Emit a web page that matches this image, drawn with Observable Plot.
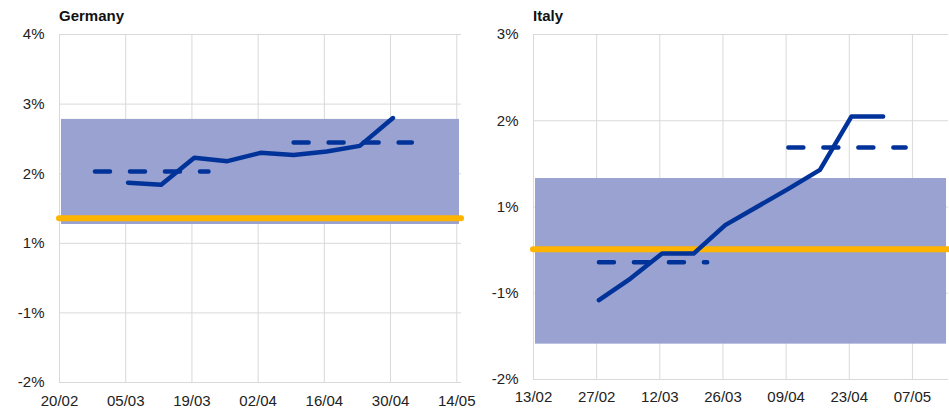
<!DOCTYPE html>
<html>
<head>
<meta charset="utf-8">
<script src="https://cdn.jsdelivr.net/npm/d3@7"></script>
<script src="https://cdn.jsdelivr.net/npm/@observablehq/plot@0.6"></script>
<style>
  html, body { margin: 0; padding: 0; background: #fff; }
  #wrap { position: relative; width: 949px; height: 409px; font-family: "Liberation Sans", Arial, sans-serif; color: #222; }
  .title { position: absolute; top: 8px; font-weight: bold; font-size: 15px; line-height: 1; color: #111; }
  .panel { position: absolute; top: 26px; }
  svg { overflow: visible; }
</style>
</head>
<body>
<div id="wrap">
  <div class="title" style="left:59px">Germany</div>
  <div class="title" style="left:533px">Italy</div>
  <div class="panel" id="de" style="left:0px"></div>
  <div class="panel" id="it" style="left:475px"></div>
</div>
<script>
// ---------- Germany ----------
const deLineDates = ["2020-03-05","2020-03-12","2020-03-19","2020-03-26","2020-04-02","2020-04-09","2020-04-16","2020-04-23","2020-04-30"];
const deLineValues = [1.87, 1.84, 2.23, 2.18, 2.30, 2.27, 2.32, 2.40, 2.80];
const deDash1Dates = ["2020-02-27","2020-03-22"];
const deDash1Values = [2.03, 2.03];
const deDash2Dates = ["2020-04-09","2020-05-04"];
const deDash2Values = [2.45, 2.45];
const deBand = [1.27, 2.78];
const deTarget = 1.36;
const deXTicks = ["2020-02-20","2020-03-05","2020-03-19","2020-04-02","2020-04-16","2020-04-30","2020-05-14"];
const deXDomain = ["2020-02-20","2020-05-15"];
const deYTicks = [4, 3, 2, 1, 0, -1];
const deYLabels = ["4%","3%","2%","1%","-1%","-2%"];

// ---------- Italy ----------
const itLineDates = ["2020-02-27","2020-03-05","2020-03-12","2020-03-19","2020-03-26","2020-04-02","2020-04-09","2020-04-16","2020-04-23","2020-04-30"];
const itLineValues = [-0.08, 0.17, 0.46, 0.46, 0.79, 1.00, 1.21, 1.43, 2.05, 2.05];
const itDash1Dates = ["2020-02-27","2020-03-22"];
const itDash1Values = [0.36, 0.36];
const itDash2Dates = ["2020-04-09","2020-05-05"];
const itDash2Values = [1.69, 1.69];
const itBand = [-0.59, 1.33];
const itTarget = 0.51;
const itXTicks = ["2020-02-13","2020-02-27","2020-03-12","2020-03-26","2020-04-09","2020-04-23","2020-05-07"];
const itXDomain = ["2020-02-13","2020-05-15"];
const itYTicks = [3, 2, 1, 0, -1];
const itYLabels = ["3%","2%","1%","-1%","-2%"];

const BLUE = "#003399", ORANGE = "#ffb400", BAND = "#99a2d0", GRID = "#d9d9d9";
const day = s => new Date(s + "T00:00:00Z");
const mid = s => new Date(s + "T12:00:00Z"); // Excel date axis: values sit between tick marks
const pts = (dates, vals) => dates.map((d, i) => ({date: mid(d), value: vals[i]}));

function panel(cfg) {
  const labelMap = new Map(cfg.yTicks.map((t, i) => [t, cfg.yLabels[i]]));
  const x0 = day(cfg.xDomain[0]), x1 = day(cfg.xDomain[1]);
  const xt = cfg.xTicks.map(day);
  return Plot.plot({
    width: cfg.width, height: 383,
    marginLeft: cfg.ml, marginRight: cfg.mr, marginTop: 8, marginBottom: cfg.mb,
    style: {fontFamily: "'Liberation Sans', Arial, sans-serif", fontSize: "15px", color: "#222", background: "transparent"},
    x: {type: "utc", domain: [x0, x1], label: null},
    y: {domain: cfg.yDomain, label: null},
    marks: [
      Plot.gridX(xt, {stroke: GRID, strokeOpacity: 1, strokeWidth: 1}),
      Plot.gridY(cfg.yTicks, {stroke: GRID, strokeOpacity: 1, strokeWidth: 1}),
      Plot.rect([cfg.band], {x1: () => x0, x2: () => x1, y1: d => d[0], y2: d => d[1], fill: BAND, insetLeft: 2, insetRight: 2}),
      Plot.ruleY([cfg.target], {stroke: ORANGE, strokeWidth: 6, strokeLinecap: "round"}),
      Plot.line(cfg.dash1, {x: "date", y: "value", stroke: BLUE, strokeWidth: 4.5, strokeDasharray: "15,20", strokeLinecap: "round"}),
      Plot.line(cfg.dash2, {x: "date", y: "value", stroke: BLUE, strokeWidth: 4.5, strokeDasharray: "15,20", strokeLinecap: "round"}),
      Plot.line(cfg.line, {x: "date", y: "value", stroke: BLUE, strokeWidth: 4.5, strokeLinecap: "round", strokeLinejoin: "round"}),
      Plot.axisY({ticks: cfg.yTicks, tickFormat: d => labelMap.get(d), tickSize: 0, tickPadding: 15, fontSize: 15, label: null}),
      Plot.axisX({ticks: xt, tickFormat: d3.utcFormat("%d/%m"), tickSize: 0, tickPadding: cfg.xpad, fontSize: 15, label: null})
    ]
  });
}

document.getElementById("de").append(panel({
  width: 476, ml: 59, mr: 15, mb: 27, xpad: 13,
  xDomain: deXDomain, xTicks: deXTicks, yDomain: [-1, 4], yTicks: deYTicks, yLabels: deYLabels,
  band: deBand, target: deTarget,
  line: pts(deLineDates, deLineValues), dash1: pts(deDash1Dates, deDash1Values), dash2: pts(deDash2Dates, deDash2Values)
}));
document.getElementById("it").append(panel({
  width: 474, ml: 58, mr: 1, mb: 30, xpad: 12,
  xDomain: itXDomain, xTicks: itXTicks, yDomain: [-1, 3], yTicks: itYTicks, yLabels: itYLabels,
  band: itBand, target: itTarget,
  line: pts(itLineDates, itLineValues), dash1: pts(itDash1Dates, itDash1Values), dash2: pts(itDash2Dates, itDash2Values)
}));
</script>
</body>
</html>
